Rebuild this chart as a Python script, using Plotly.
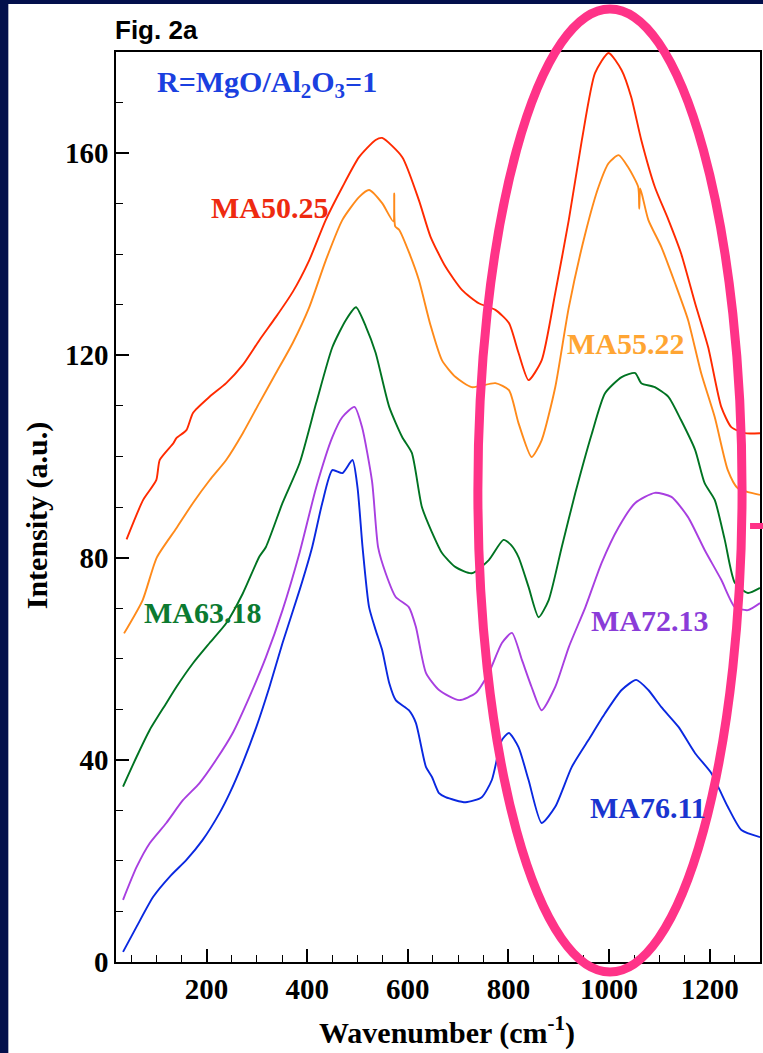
import plotly.graph_objects as go

# Raman spectra, wavenumber (cm-1) vs intensity (a.u.), one pair of lists per glass
ma50_x = [41, 74, 100, 107, 134, 140, 160, 173, 206, 239, 272, 305, 338, 371, 404, 437, 470, 503,
          536, 549, 589, 622, 645, 675, 708, 741, 774, 801, 820, 840, 866, 893, 920, 946, 972,
          999, 1025, 1044, 1064, 1091, 1118, 1143, 1171, 1197, 1223, 1243, 1270, 1300]
ma50_y = [83.6, 91.4, 95.3, 99.3, 102.6, 103.6, 105.2, 108.6, 111.8, 114.5, 118.1, 123.0, 127.6,
          132.5, 138.8, 146.8, 153.3, 159.2, 162.6, 163.0, 159.2, 150.7, 143.5, 137.5, 132.9,
          130.3, 129.0, 126.4, 120.5, 115.1, 119.0, 132.3, 146.8, 162.6, 175.8, 179.8, 176.4,
          171.1, 162.6, 153.3, 146.8, 140.2, 130.3, 121.6, 109.8, 105.8, 104.6, 104.6]

ma55_x = [36, 73, 101, 140, 173, 206, 239, 272, 305, 338, 371, 404, 437, 470, 503, 523, 549, 571,
          573, 575, 583, 603, 622, 645, 668, 695, 727, 774, 801, 820, 846, 866, 893, 920, 953,
          979, 999, 1019, 1038, 1058, 1060, 1062, 1078, 1104, 1131, 1157, 1183, 1210, 1236,
          1256, 1300]
ma55_y = [65.0, 71.6, 80.0, 85.8, 90.8, 95.3, 99.3, 104.6, 110.6, 116.5, 122.4, 129.5, 138.8,
          146.8, 151.3, 152.7, 150.1, 146.5, 152.0, 145.5, 144.8, 140.2, 134.9, 126.0, 119.0,
          115.7, 113.7, 114.5, 113.1, 106.6, 99.9, 103.2, 113.7, 129.5, 144.2, 153.3, 158.0,
          159.6, 157.2, 153.3, 149.0, 153.0, 146.8, 141.4, 134.3, 127.0, 116.5, 107.8, 97.3,
          93.7, 92.4]

ma63_x = [34, 61, 87, 120, 140, 173, 206, 239, 272, 305, 318, 351, 385, 418, 450, 477, 497, 517,
          536, 563, 589, 608, 628, 648, 668, 695, 727, 761, 790, 805, 820, 840, 860, 880, 906,
          933, 966, 992, 1025, 1052, 1064, 1091, 1118, 1143, 1171, 1190, 1210, 1230, 1250,
          1276, 1300]
ma63_y = [34.7, 40.6, 45.9, 51.2, 54.4, 59.1, 63.1, 67.0, 72.9, 80.2, 82.1, 90.8, 98.7, 110.6,
          121.6, 127.0, 129.5, 125.6, 120.5, 109.8, 103.8, 100.7, 90.0, 85.0, 80.9, 78.1, 76.9,
          79.5, 83.5, 82.5, 80.1, 74.2, 68.2, 71.6, 82.1, 92.8, 104.6, 112.5, 115.7, 116.5,
          114.5, 113.7, 111.8, 107.2, 101.3, 94.7, 91.4, 83.5, 75.0, 73.0, 74.0]

ma72_x = [34, 61, 87, 120, 153, 186, 219, 252, 285, 318, 351, 385, 418, 450, 470, 494, 509, 529,
          541, 556, 576, 602, 616, 636, 662, 702, 735, 761, 787, 807, 827, 846, 866, 893, 920,
          953, 985, 1019, 1052, 1091, 1124, 1157, 1190, 1223, 1250, 1276, 1300]
ma72_y = [12.3, 18.8, 23.5, 27.5, 32.0, 35.4, 40.0, 45.3, 52.4, 60.3, 69.6, 81.0, 93.9, 103.8,
          107.8, 109.8, 105.8, 95.0, 82.0, 76.9, 72.2, 70.2, 66.3, 57.2, 53.8, 51.8, 53.2, 57.2,
          63.1, 65.1, 59.7, 54.4, 49.8, 54.4, 62.3, 70.2, 78.9, 86.0, 90.8, 92.8, 92.0, 88.0,
          81.5, 75.6, 70.2, 69.6, 71.0]

ma76_x = [34, 61, 94, 127, 160, 192, 226, 246, 272, 299, 325, 351, 385, 410, 430, 450, 470, 490,
          500, 510, 523, 536, 549, 563, 576, 602, 616, 636, 648, 662, 675, 715, 747, 767, 787,
          801, 820, 840, 866, 893, 926, 959, 992, 1025, 1054, 1078, 1104, 1138, 1171, 1203,
          1220, 1236, 1263, 1300]
ma76_y = [2.0, 7.0, 12.9, 16.9, 20.2, 24.1, 29.5, 33.4, 39.4, 46.5, 54.4, 63.1, 73.6, 82.1, 90.8,
          97.3, 96.7, 99.3, 93.9, 82.1, 70.2, 65.7, 61.7, 55.2, 51.8, 49.8, 47.3, 38.6, 36.6,
          33.4, 32.6, 31.6, 32.6, 36.0, 43.9, 45.3, 42.5, 36.0, 27.5, 30.7, 38.6, 43.9, 49.2,
          53.8, 55.8, 53.8, 50.4, 46.5, 41.3, 37.4, 34.0, 30.7, 26.1, 24.7]

names = ["MA50.25", "MA55.22", "MA63.18", "MA72.13", "MA76.11"]
line_colors = ["#ff2a00", "#ff8a1a", "#007322", "#a83fe0", "#0a28e0"]
label_colors = ["#ee2a10", "#ffa533", "#0c7a30", "#8a3cd8", "#1a35d0"]
label_x = [325, 1033, 191, 1080, 1078]
label_y = [149.3, 122.4, 69.2, 67.6, 30.5]
xs_all = [ma50_x, ma55_x, ma63_x, ma72_x, ma76_x]
ys_all = [ma50_y, ma55_y, ma63_y, ma72_y, ma76_y]

SERIF = "Liberation Serif"

fig = go.Figure()
for name, xs, ys, col in zip(names, xs_all, ys_all, line_colors):
    fig.add_trace(go.Scatter(x=xs, y=ys, mode="lines", name=name, showlegend=False,
                             line=dict(color=col, width=1.9, shape="spline", smoothing=0.6)))

# page geometry (pixels) -> paper fractions
W, H = 763, 1053
ML, MR, MT, MB = 116, 1, 52, 91
PW, PH = W - ML - MR, H - MT - MB


def px(x):
    return (x - ML) / PW


def py(y):
    return (H - MB - y) / PH


annotations = []
for name, col, lx, ly in zip(names, label_colors, label_x, label_y):
    annotations.append(dict(x=lx, y=ly, xref="x", yref="y", text=name, showarrow=False,
                            xanchor="center", yanchor="middle",
                            font=dict(family=SERIF, size=30, color=col, weight="bold")))

annotations += [
    dict(x=px(113), y=py(30), xref="paper", yref="paper", text="Fig. 2a", showarrow=False,
         xanchor="left", yanchor="middle",
         font=dict(family="Liberation Sans", size=26, color="black", weight="bold")),
    dict(x=px(155), y=py(84), xref="paper", yref="paper",
         text="R=MgO/Al<sub>2</sub>O<sub>3</sub>=1", showarrow=False,
         xanchor="left", yanchor="middle",
         font=dict(family=SERIF, size=30, color="#1a40e0", weight="bold")),
    dict(x=px(448), y=py(1030), xref="paper", yref="paper",
         text="Wavenumber (cm<sup>-1</sup>)", showarrow=False,
         xanchor="center", yanchor="middle",
         font=dict(family=SERIF, size=30, color="black", weight="bold")),
    dict(x=px(37), y=py(515), xref="paper", yref="paper", text="Intensity (a.u.)",
         showarrow=False, textangle=-90, xanchor="center", yanchor="middle",
         font=dict(family=SERIF, size=30, color="black", weight="bold")),
]

PINK = "#ff3388"
shapes = [
    # white page panel on the dark slide background
    dict(type="rect", xref="paper", yref="paper", x0=px(8), x1=px(770), y0=py(1060), y1=py(4),
         fillcolor="white", line=dict(width=0), layer="below"),
    # highlight ellipse around the high-frequency band
    dict(type="circle", xref="paper", yref="paper", x0=px(479), x1=px(744), y0=py(972),
         y1=py(9), line=dict(color=PINK, width=9), layer="above"),
    dict(type="line", xref="paper", yref="paper", x0=px(752), x1=px(766), y0=py(526),
         y1=py(526), line=dict(color=PINK, width=6), layer="above"),
]

axis_common = dict(showline=True, linecolor="black", linewidth=1.5, mirror=True,
                   showgrid=False, zeroline=False, ticks="inside", ticklen=13,
                   tickwidth=1.5, tickcolor="black",
                   tickfont=dict(family=SERIF, size=29, color="black", weight="bold"))

fig.update_layout(
    width=W, height=H,
    margin=dict(l=ML, r=MR, t=MT, b=MB, pad=0),
    paper_bgcolor="#03104c",
    plot_bgcolor="white",
    showlegend=False,
    xaxis=dict(range=[20, 1300], tick0=0, dtick=200,
               minor=dict(tick0=0, dtick=50, ticks="inside", ticklen=7, tickwidth=1.3,
                          tickcolor="black", showgrid=False),
               **axis_common),
    yaxis=dict(range=[0, 180], tick0=0, dtick=40,
               minor=dict(tick0=0, dtick=10, ticks="inside", ticklen=7, tickwidth=1.3,
                          tickcolor="black", showgrid=False),
               **axis_common),
    annotations=annotations,
    shapes=shapes,
)

fig.write_html("out.html")
